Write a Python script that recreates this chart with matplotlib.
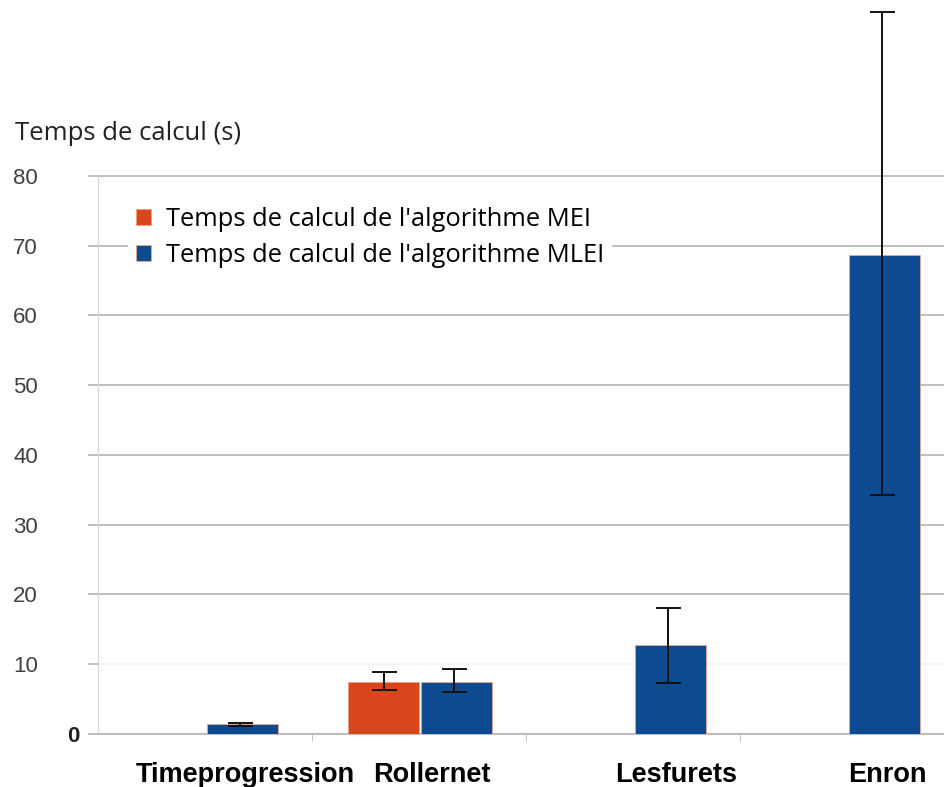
import matplotlib.pyplot as plt
import numpy as np
from matplotlib.transforms import ScaledTranslation

# data
datasets = ['Timeprogression', 'Rollernet', 'Lesfurets', 'Enron']
mei_time = [0.0, 7.5, 0.0, 0.0]
mei_low = [0.0, 6.3, 0.0, 0.0]
mei_high = [0.0, 8.9, 0.0, 0.0]
mlei_time = [1.4, 7.4, 12.8, 68.7]
mlei_low = [1.2, 6.0, 7.3, 34.3]
mlei_high = [1.6, 9.3, 18.1, 103.5]
yticks = [0, 10, 20, 30, 40, 50, 60, 70, 80]

orange = '#d8461b'
blue = '#0d4a90'
grid_clr = '#b4b4b4'

fig = plt.figure(figsize=(9.44, 7.87), dpi=100)
ax = fig.add_axes([98 / 944, 53 / 787, 856 / 944, 734 / 787])

x = np.arange(len(datasets))
w = 0.33
mei = np.array(mei_time)
mlei = np.array(mlei_time)
mei_err = [mei - np.array(mei_low), np.array(mei_high) - mei]
mlei_err = [mlei - np.array(mlei_low), np.array(mlei_high) - mlei]

ax.bar(x - w / 2, mei, w, color=orange, edgecolor='#f0a080', linewidth=0.6, zorder=3,
       label="Temps de calcul de l'algorithme MEI")
ax.bar(x + w / 2 + 0.01, mlei, w, color=blue, edgecolor='#e8a890', linewidth=0.6, zorder=3,
       label="Temps de calcul de l'algorithme MLEI")

# error bars only where a bar exists
has_mei = mei > 0
ax.errorbar(x[has_mei] - w / 2, mei[has_mei],
            yerr=[mei_err[0][has_mei], mei_err[1][has_mei]],
            fmt='none', ecolor='#111111', elinewidth=1.4, capsize=9, capthick=1.4, zorder=4)
ax.errorbar(x + w / 2, mlei, yerr=mlei_err,
            fmt='none', ecolor='#111111', elinewidth=1.4, capsize=9, capthick=1.4, zorder=4)

ax.set_xlim(-0.5, 3.5)
ax.set_ylim(0, 105.2)

ax.set_yticks(yticks)
ax.set_yticklabels([str(v) for v in yticks], fontsize=16, color='#404040',
                   family='Liberation Sans')
ax.tick_params(axis='y', length=7.2, width=1.2, color=grid_clr, pad=36)
ax.yaxis.grid(True, color=grid_clr, linewidth=1.2, zorder=0)
ax.set_axisbelow(True)
# the 10 line is almost invisible in the original
ax.yaxis.get_gridlines()[1].set_color('#f2f2f2')

lbl0 = ax.get_yticklabels()[0]
lbl0.set_fontweight('bold')
lbl0.set_color('#222222')
lbl0.set_transform(lbl0.get_transform() + ScaledTranslation(0.41, 0, fig.dpi_scale_trans))

# x labels, shifted a bit to the right like the original
label_shift = [0.19, 0.06, 0.2, 0.19]
ax.set_xticks(x + np.array(label_shift))
ax.set_xticklabels(datasets, fontsize=19.5, fontweight='bold', family='Liberation Sans')
ax.tick_params(axis='x', length=0, pad=20)
ax.set_xticks(x[:-1] + 0.5, minor=True)
ax.tick_params(axis='x', which='minor', length=5, color=grid_clr)

for s in ['top', 'right']:
    ax.spines[s].set_visible(False)
ax.spines['left'].set_bounds(0, 80)
ax.spines['left'].set_color('#d6d6d6')
ax.spines['bottom'].set_color(grid_clr)
ax.spines['bottom'].set_linewidth(1.2)

fig.text(15 / 944, 1 - 134 / 787, 'Temps de calcul (s)', fontsize=18.5, family='Open Sans',
         color='#222222', va='center', ha='left')

leg = ax.legend(loc='upper left', bbox_to_anchor=(128 / 944, 1 - 199 / 787),
                bbox_transform=fig.transFigure, prop={'family': 'Open Sans', 'size': 18.4},
                frameon=True, fancybox=False, edgecolor='none', facecolor='white',
                framealpha=1, handlelength=0.6, handleheight=0.6, handletextpad=0.6,
                labelspacing=0.45, borderpad=0.3, borderaxespad=0)
leg.set_zorder(5)

fig.savefig('out.png', dpi=100)
